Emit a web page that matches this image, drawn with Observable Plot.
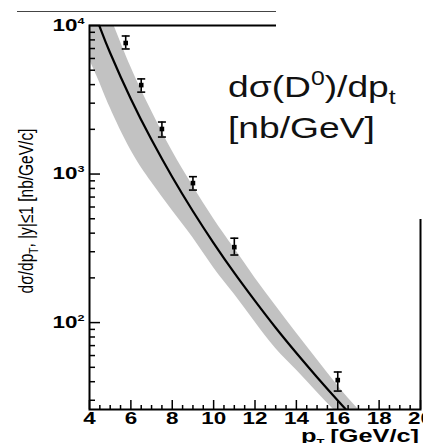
<!DOCTYPE html>
<html>
<head>
<meta charset="utf-8">
<script src="https://cdn.jsdelivr.net/npm/d3@7"></script>
<script src="https://cdn.jsdelivr.net/npm/@observablehq/plot@0.6"></script>
<style>
  body { margin: 0; background: #fff; }
  #chart { position: relative; width: 423px; height: 443px; overflow: hidden; background: #fff; }
  #chart svg { position: absolute; left: 0; top: 0; }
  .hair { position: absolute; left: 17px; top: 11px; width: 259px; height: 0; border-top: 1px solid #444; }
  .cover { position: absolute; left: 276px; top: 0; width: 147px; height: 219px; background: #fff; }
  .note { position: absolute; left: 228px; font: 30px "Liberation Sans", Arial, sans-serif; line-height: 30px;
          color: #111; white-space: nowrap; transform: scaleX(1.24); transform-origin: 0 0; }
  .note .sup { font-size: 20px; line-height: 0; position: relative; top: -12px; }
  .note .sub { font-size: 20px; line-height: 0; position: relative; top: 7px; }
</style>
</head>
<body>
<div id="chart"></div>
<script>
// FONLL-style prediction: central curve and uncertainty band (nb/GeV/c)
const pT      = [4, 4.5, 5, 6, 7, 8, 9, 10, 11, 12, 13, 14, 15, 16, 17, 18];
const central = [14790, 9770, 6530, 3200, 1700, 955, 562, 343, 216, 140, 92.3, 62.4, 42.9, 29.9, 21.1, 15.1];
const lower   = [5900, 4100, 2790, 1445, 881, 569, 372, 234, 155, 101, 67.0, 48.0, 34.0, 24.3, 17.4, 12.5];
const upper   = [25700, 17100, 11600, 5250, 2660, 1430, 832, 501, 316, 200, 130, 85.0, 56.5, 37.6, 26.0, 18.3];

// Measured D0 cross section with error bars
const dataPt = [5.75, 6.5, 7.5, 9, 11, 16];
const dataY  = [7620, 3970, 2010, 869, 322, 41];
const dataLo = [6950, 3560, 1775, 780, 285, 34.6];
const dataHi = [8500, 4370, 2240, 960, 370, 46.5];

// Axis ticks
const xMajor = [4, 6, 8, 10, 12, 14, 16, 18, 20];
const yMajor = [100, 1000, 10000];
const yMajorLabels = ["10^2", "10^3", "10^4"];

const band = pT.map((x, i) => ({x, c: central[i], lo: lower[i], hi: upper[i]}));
const points = dataPt.map((x, i) => ({x, y: dataY[i], lo: dataLo[i], hi: dataHi[i]}));
const xMinor = d3.range(4, 20.001, 0.5).filter(v => !xMajor.includes(v));
const yMinor = [10, 100, 1000].flatMap(d => d3.range(2, 10).map(k => k * d)).filter(v => v >= 26 && v <= 10000);

const capSymbol = {
  draw(context, size) {
    const w = Math.sqrt(size / Math.PI);
    context.moveTo(-w, 0);
    context.lineTo(w, 0);
  }
};

const boldFont = "Liberation Sans, Arial, sans-serif";

const svg = Plot.plot({
  width: 423,
  height: 443,
  marginLeft: 89,
  marginRight: 3,
  marginTop: 25,
  marginBottom: 34,
  x: {domain: [4, 20]},
  y: {type: "log", domain: [26, 10000]},
  marks: [
    Plot.areaY(band, {x: "x", y1: "lo", y2: "hi", fill: "#c2c2c2", curve: "natural", clip: true}),
    Plot.line(band, {x: "x", y: "c", stroke: "#000", strokeWidth: 2.2, curve: "natural", clip: true}),
    Plot.ruleX(points, {x: "x", y1: "lo", y2: "hi", stroke: "#000", strokeWidth: 1.6}),
    Plot.dot(points, {x: "x", y: "lo", symbol: capSymbol, r: 4, stroke: "#000", fill: "none", strokeWidth: 1.6}),
    Plot.dot(points, {x: "x", y: "hi", symbol: capSymbol, r: 4, stroke: "#000", fill: "none", strokeWidth: 1.6}),
    Plot.dot(points, {x: "x", y: "y", symbol: "square", r: 2.6, fill: "#000", stroke: "none"}),
    Plot.frame({stroke: "#000", strokeWidth: 2}),
    Plot.axisX(xMinor, {tickSize: -4, fill: "none", strokeWidth: 1.5, label: null}),
    Plot.axisX(xMajor, {tickSize: -9, fill: "none", strokeWidth: 1.5, label: null}),
    Plot.axisX(xMajor, {stroke: "none", tickSize: 0, tickPadding: 3, label: null,
      fontSize: 16, fontWeight: "bold", fontFamily: boldFont, fill: "#000"}),
    Plot.axisY(yMinor, {tickSize: -6, fill: "none", strokeWidth: 1.5, label: null}),
    Plot.axisY(yMajor, {tickSize: -11, fill: "none", strokeWidth: 1.5, label: null}),
    Plot.axisY(yMajor, {stroke: "none", tickSize: 0, tickPadding: 5, label: null,
      tickFormat: d => yMajorLabels[yMajor.indexOf(d)],
      fontSize: 16, fontWeight: "bold", fontFamily: boldFont, fill: "#000"})
  ]
});

const root = d3.select(svg);

// Widen a text element horizontally about its anchor point
function widen(el, k) {
  const t = el.getAttribute("transform");
  if (t) {
    el.setAttribute("transform", t + ` scale(${k},1)`);
  } else {
    const x = +el.getAttribute("x") || 0, y = +el.getAttribute("y") || 0;
    el.removeAttribute("x"); el.removeAttribute("y");
    el.setAttribute("transform", `translate(${x},${y}) scale(${k},1)`);
  }
}

root.selectAll('[aria-label="x-axis tick label"] text').each(function() { widen(this, 1.4); });
root.selectAll('[aria-label="y-axis tick label"] text').each(function() {
  const [base, exp] = this.textContent.split("^");
  const s = d3.select(this);
  s.text(base);
  s.append("tspan").attr("dy", "-7px").attr("font-size", "9px").text(exp);
  widen(this, 1.4);
});

// y-axis title
const yt = root.append("text")
  .attr("transform", "translate(33,211) rotate(-90) scale(1,1.3)")
  .attr("text-anchor", "middle")
  .attr("font-family", boldFont)
  .attr("font-size", 15.5)
  .attr("fill", "#000");
yt.append("tspan").text("dσ/dp");
yt.append("tspan").attr("dy", "4px").attr("font-size", "10px").text("T");
yt.append("tspan").attr("dy", "-4px").text(", |y|≤1 [nb/GeV/c]");

// x-axis title
const xt = root.append("text")
  .attr("transform", "translate(301,442) scale(1.45,1)")
  .attr("text-anchor", "start")
  .attr("font-family", boldFont)
  .attr("font-weight", "bold")
  .attr("font-size", 17.5)
  .attr("fill", "#000");
xt.append("tspan").text("p");
xt.append("tspan").attr("dy", "3px").attr("font-size", "9px").text("T");
xt.append("tspan").attr("dy", "-3px").attr("dx", "4px").text("[GeV/c]");

const chart = document.getElementById("chart");
chart.appendChild(svg);
chart.insertAdjacentHTML("beforeend",
  '<div class="hair"></div>' +
  '<div class="cover"></div>' +
  '<div class="note" style="top:72px">dσ(D<span class="sup">0</span>)/dp<span class="sub">t</span></div>' +
  '<div class="note" style="top:113px">[nb/GeV]</div>');
</script>
</body>
</html>
